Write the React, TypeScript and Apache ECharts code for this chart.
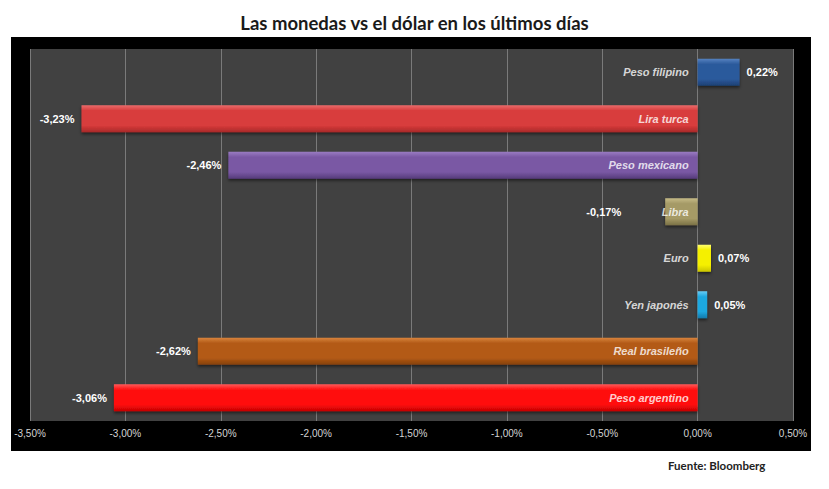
import React, { useEffect, useRef } from "react";
import * as echarts from "echarts";

const categories = [
  "Peso filipino",
  "Lira turca",
  "Peso mexicano",
  "Libra",
  "Euro",
  "Yen japonés",
  "Real brasileño",
  "Peso argentino",
];
const values = [0.22, -3.23, -2.46, -0.17, 0.07, 0.05, -2.62, -3.06];
const barColors = [
  ["#5682c0", "#2c5a9c", "#1d3f73"],
  ["#ea6c6c", "#d83c3c", "#a82828"],
  ["#9a7cc2", "#7a58a4", "#553a7a"],
  ["#c6bb88", "#a59a66", "#7a7045"],
  ["#ffff70", "#f5f000", "#c9c400"],
  ["#66cdf7", "#1fa8e0", "#127aab"],
  ["#d8843d", "#b35a15", "#843f0a"],
  ["#ff5a5a", "#ff1010", "#c40000"],
];
const xMin = -3.5;
const xMax = 0.5;
const xStep = 0.5;

const fmt = (v: number) => v.toFixed(2).replace(".", ",") + "%";

export default function App() {
  const ref = useRef<HTMLDivElement>(null);
  useEffect(() => {
    if (!ref.current) return;
    const chart = echarts.init(ref.current, null, { renderer: "svg" });
    const data = values.map((v, i) => ({
      value: v,
      itemStyle: {
        color: {
          type: "linear",
          x: 0,
          y: 0,
          x2: 0,
          y2: 1,
          colorStops: [
            { offset: 0, color: barColors[i][0] },
            { offset: 0.2, color: barColors[i][1] },
            { offset: 0.75, color: barColors[i][1] },
            { offset: 1, color: barColors[i][2] },
          ],
        },
        shadowColor: "rgba(0,0,0,0.5)",
        shadowBlur: 3,
        shadowOffsetY: 2,
      },
      label: {
        position: v >= 0 ? "right" : "left",
        // short negative bar: keep its value clear of the category name
        distance: v < 0 && v > -0.5 ? 44 : 7,
      },
    }));
    const nameData = categories.map((c) => [0, c]);
    chart.setOption({
      animation: false,
      backgroundColor: "#ffffff",
      title: {
        text: "Las monedas vs el dólar en los últimos días",
        left: "center",
        top: 8,
        textStyle: {
          fontFamily: "Lato",
          fontWeight: "bold",
          fontSize: 18.5,
          color: "#1a1a1a",
        },
      },
      graphic: [
        {
          type: "rect",
          z: -1,
          shape: { x: 11, y: 37, width: 800, height: 414 },
          style: { fill: "#000000" },
        },
        {
          type: "text",
          x: 668,
          y: 459,
          style: {
            text: "Fuente: Bloomberg",
            font: "bold 11.5px Lato",
            fill: "#222222",
          },
        },
      ],
      grid: {
        left: 30,
        right: 36,
        top: 49,
        bottom: 68,
        show: true,
        backgroundColor: "#414141",
        borderWidth: 0,
        containLabel: false,
        outerBoundsMode: "none",
      },
      xAxis: {
        type: "value",
        min: xMin,
        max: xMax,
        interval: xStep,
        axisLine: { show: false },
        axisTick: { show: false },
        axisLabel: {
          color: "#d4d4d4",
          fontSize: 10,
          fontFamily: "Liberation Sans",
          margin: 7,
          formatter: (v: number) => fmt(v),
        },
        splitLine: { show: true, lineStyle: { color: "#7a7a7a", width: 1 } },
      },
      yAxis: {
        type: "category",
        data: categories,
        inverse: true,
        axisLine: { show: false },
        axisTick: { show: false },
        splitLine: { show: false },
        axisLabel: { show: false },
      },
      series: [
        {
          type: "bar",
          data,
          barWidth: 27,
          label: {
            show: true,
            distance: 7,
            color: "#ffffff",
            fontWeight: "bold",
            fontFamily: "Liberation Sans",
            fontSize: 11,
            formatter: (p: any) => fmt(p.value),
          },
        },
        {
          type: "scatter",
          data: nameData,
          symbolSize: 0,
          z: 5,
          silent: true,
          label: {
            show: true,
            position: "left",
            distance: 9,
            color: "#ffffff",
            fontStyle: "italic",
            fontWeight: "bold",
            fontFamily: "Liberation Sans",
            fontSize: 11,
            formatter: (p: any) => p.value[1],
          },
        },
      ],
    });
    return () => chart.dispose();
  }, []);
  return (
    <div
      ref={ref}
      style={{ position: "absolute", left: 0, top: 0, width: 829, height: 489 }}
    />
  );
}
